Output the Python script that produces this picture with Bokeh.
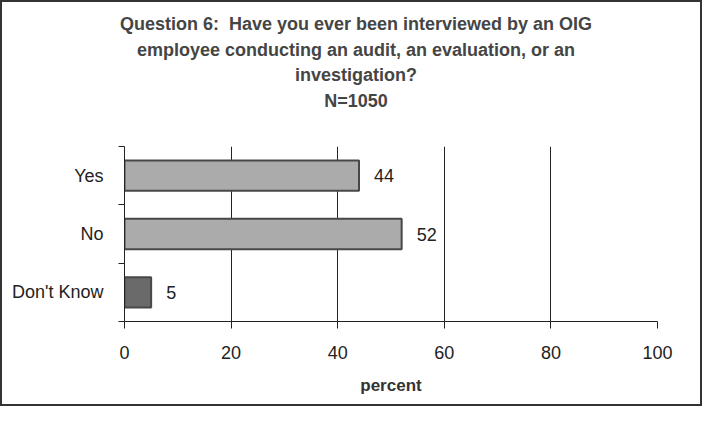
from bokeh.plotting import figure
from bokeh.models import ColumnDataSource, FixedTicker, Range1d, Div
from bokeh.layouts import column
from bokeh.embed import file_html
from bokeh.resources import INLINE
from bokeh.core.properties import value

# ---- data ----
categories = ["Yes", "No", "Don't Know"]
percents = [44, 52, 5]
value_labels = ["44", "52", "5"]
x_ticks = [0, 20, 40, 60, 80, 100]
title_lines = [
    "Question 6:&nbsp; Have you ever been interviewed by an OIG",
    "employee conducting an audit, an evaluation, or an",
    "investigation?",
    "N=1050",
]

# ---- styling ----
bar_colors = ["#ababab", "#ababab", "#6a6a6a"]
FONT = "Liberation Sans"
W = 698
TITLE_H = 140
FIG_H = 262
ML, MR, MT, MB = 122, 43, 4, 83

n = len(categories)
ypos = [n - i - 0.5 for i in range(n)]

src = ColumnDataSource(dict(y=ypos, right=percents, cat=categories,
                            lab=value_labels, color=bar_colors))

title_html = (
    f'<div style="width:{W}px; text-align:center; font-family:\'{FONT}\'; '
    f'font-size:18px; font-weight:bold; color:#454545; line-height:25.7px; '
    f'padding-top:10px; padding-left:10px; box-sizing:border-box;">'
    + "<br>".join(title_lines) + "</div>"
)
title_div = Div(text=title_html, width=W, height=TITLE_H,
                styles={"margin": "0", "padding": "0"})

p = figure(width=W, height=FIG_H, output_backend="svg", toolbar_location=None,
           x_range=Range1d(0, 100), y_range=Range1d(0, n),
           min_border_left=ML, min_border_right=MR,
           min_border_top=MT, min_border_bottom=MB)
p.title = None
p.outline_line_color = None
p.background_fill_color = "white"
p.border_fill_color = "white"

# bars
p.hbar(y="y", left=0, right="right", height=0.52, source=src,
       fill_color="color", line_color="#484848", line_width=2)

p.text(x="right", y="y", text="lab", source=src, x_offset=15,
       text_baseline="middle", text_align="left",
       text_font=value(FONT), text_font_size="18px", text_color="#222222")

# x axis
p.xaxis.ticker = FixedTicker(ticks=x_ticks)
p.xaxis.axis_line_color = "#222222"
p.xaxis.major_tick_line_color = "#222222"
p.xaxis.major_tick_out = 7
p.xaxis.major_tick_in = 0
p.xaxis.minor_tick_line_color = None
p.xaxis.major_label_text_font = FONT
p.xaxis.major_label_text_font_size = "18px"
p.xaxis.major_label_text_color = "#222222"
p.xaxis.major_label_standoff = 17
p.xaxis.axis_label = "percent"
p.xaxis.axis_label_text_font = FONT
p.xaxis.axis_label_text_font_size = "17px"
p.xaxis.axis_label_text_font_style = "bold"
p.xaxis.axis_label_text_color = "#333333"
p.xaxis.axis_label_standoff = 14

# y axis: labels at centres, ticks at category boundaries
p.yaxis.ticker = FixedTicker(ticks=ypos, minor_ticks=list(range(n + 1)))
p.yaxis.major_label_overrides = {y: c for y, c in zip(ypos, categories)}
p.yaxis.major_tick_line_color = None
p.yaxis.minor_tick_line_color = "#222222"
p.yaxis.minor_tick_out = 6
p.yaxis.minor_tick_in = 0
p.yaxis.axis_line_color = "#222222"
p.yaxis.major_label_text_font = FONT
p.yaxis.major_label_text_font_size = "18px"
p.yaxis.major_label_text_color = "#222222"
p.yaxis.major_label_standoff = 15

p.xgrid.ticker = FixedTicker(ticks=x_ticks)
p.xgrid.grid_line_color = "#222222"
p.xgrid.grid_line_width = 1
p.ygrid.grid_line_color = None

layout = column(title_div, p, spacing=0,
                styles={"border": "2px solid #333333", "background": "white"})

open("out.html", "w").write(file_html(layout, INLINE))
